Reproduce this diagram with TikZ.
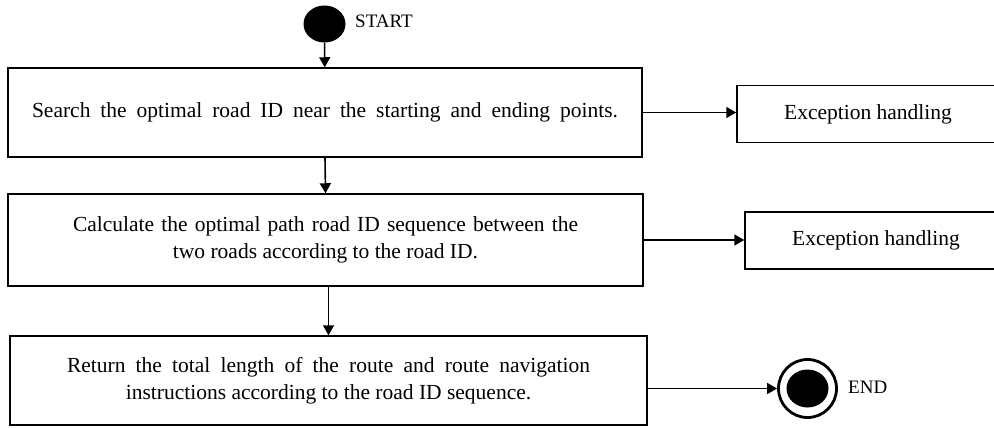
\documentclass[tikz,border=0pt]{standalone}
\usepackage{fontspec}
\setmainfont{Liberation Serif}
\usetikzlibrary{shapes.geometric, arrows.meta}

\begin{document}
\begin{tikzpicture}[x=1pt,y=-1pt,
  stepbox/.style={draw=black, line width=1.5pt, rectangle, align=center, inner sep=0pt, font=\fontsize{21.5}{27}\selectfont},
  errbox/.style={stepbox, minimum width=262pt, minimum height=57pt},
  flow/.style={line width=1.6pt, -{Triangle[length=10pt,width=11pt]}},
  tag/.style={anchor=west, inner sep=0pt, font=\fontsize{19}{19}\selectfont}]
\useasboundingbox (0,0) rectangle (994,428);
\clip (0,0) rectangle (994,428);
\node[ellipse, fill=black, inner sep=0pt, minimum width=42pt, minimum height=37pt] (start) at (324.5,24) {};
\node[tag] (starttag) at (355,21) {START};
\node[stepbox, minimum width=634pt, minimum height=89pt] (search) at (325,112.5) {\makebox[586pt][s]{Search the optimal road ID near the starting and ending points.}};
\node[stepbox, minimum width=635pt, minimum height=92pt] (calc) at (325.5,240) {\makebox[505pt][s]{Calculate the optimal path road ID sequence between the}\\two roads according to the road ID.};
\node[stepbox, minimum width=637pt, minimum height=89pt] (ret) at (328.5,380.5) {\makebox[523pt][s]{Return the total length of the route and route navigation}\\instructions according to the road ID sequence.};
\node[errbox] (err1) at (868,114) {Exception handling};
\node[errbox] (err2) at (876,240.5) {Exception handling};
\node[circle, draw=black, line width=2.8pt, inner sep=0pt, minimum size=58pt] (stop) at (807.5,388.5) {};
\node[ellipse, fill=black, inner sep=0pt, minimum width=42pt, minimum height=38pt] (stopdot) at (807.5,388.5) {};
\node[tag] (stoptag) at (848,387) {END};
\draw[flow] (start) -- (search);
\draw[flow] (search.south) -- (calc.north);
\draw[flow] (ret.north |- calc.south) -- (ret.north);
\draw[flow] (search.east) -- (search.east -| err1.west);
\draw[flow] (calc.east) -- (calc.east -| err2.west);
\draw[flow] (ret.east |- stop.west) -- (stop.west);
\end{tikzpicture}
\end{document}
